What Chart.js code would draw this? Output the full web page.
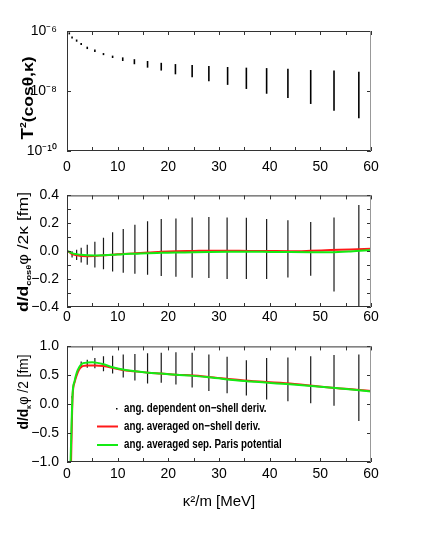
<!DOCTYPE html>
<html>
<head>
<meta charset="utf-8">
<script src="https://cdn.jsdelivr.net/npm/chart.js@4/dist/chart.umd.min.js"></script>
<style>
body { margin:0; background:#fff; width:436px; height:545px; position:relative; overflow:hidden; }
canvas { position:absolute; left:0; }
</style>
</head>
<body>
<canvas id="t2Chart" width="436" height="179" style="top:0px"></canvas>
<canvas id="cosChart" width="436" height="151" style="top:179px"></canvas>
<canvas id="kapChart" width="436" height="215" style="top:330px"></canvas>
<script>
// --- data (x = kappa^2/m in MeV) ---

// top panel: T^2(cos theta, kappa), spread over the angles
var t2Energy = [0.45, 1.0, 1.9, 2.8, 4.0, 5.5, 7.2, 9.0, 11.0, 13.3, 15.9, 18.6, 21.4, 24.7, 28.0, 31.7, 35.4, 39.4, 43.6, 48.1, 52.7, 57.6];
var t2High = [9.0e-7, 6.5e-7, 5.2e-7, 4.0e-7, 3.0e-7, 2.4e-7, 1.84e-7, 1.51e-7, 1.32e-7, 1.15e-7, 1.0e-7, 8.7e-8, 7.9e-8, 7.4e-8, 6.8e-8, 6.3e-8, 6.0e-8, 5.8e-8, 5.5e-8, 5.0e-8, 4.8e-8, 4.4e-8];
var t2Low = [7.7e-7, 5.6e-7, 4.4e-7, 3.4e-7, 2.5e-7, 2.0e-7, 1.57e-7, 1.26e-7, 1.0e-7, 7.8e-8, 6.0e-8, 4.8e-8, 3.6e-8, 2.9e-8, 2.1e-8, 1.6e-8, 1.17e-8, 8.1e-9, 5.8e-9, 3.7e-9, 2.2e-9, 1.23e-9];
var t2Ticks = [1e-10, 1e-8, 1e-6];

// energies of the angle dependent derivative points (middle + bottom panel)
var barEnergy = [1.0, 1.9, 2.8, 4.0, 5.5, 7.2, 9.0, 11.1, 13.4, 15.9, 18.6, 21.5, 24.7, 28.0, 31.6, 35.4, 39.4, 43.6, 48.1, 52.7, 57.6];

// middle panel: d/dcos phi / 2kappa [fm]
var cosHigh = [0.0, 0.01, 0.025, 0.047, 0.068, 0.097, 0.135, 0.16, 0.19, 0.214, 0.23, 0.234, 0.241, 0.246, 0.241, 0.239, 0.23, 0.221, 0.21, 0.241, 0.331];
var cosLow = [-0.045, -0.063, -0.081, -0.097, -0.117, -0.13, -0.146, -0.155, -0.162, -0.169, -0.178, -0.184, -0.191, -0.193, -0.2, -0.2, -0.2, -0.189, -0.176, -0.288, -0.394];
var cosLineE = [0.2, 1.0, 1.9, 2.8, 4.0, 5.5, 7.2, 9.0, 11.0, 13.4, 16.0, 18.6, 21.5, 25, 28, 32, 36, 40, 44, 48, 52, 56, 60];
var cosRed = [0, -0.02, -0.029, -0.035, -0.036, -0.035, -0.029, -0.025, -0.02, -0.015, -0.01, -0.004, 0, 0.002, 0.004, 0.003, 0.002, 0.001, 0, 0.003, 0.008, 0.012, 0.018];
var cosGreen = [0, -0.014, -0.021, -0.026, -0.029, -0.03, -0.029, -0.026, -0.021, -0.018, -0.014, -0.012, -0.01, -0.007, -0.005, -0.004, -0.004, -0.005, -0.006, -0.007, -0.008, -0.002, 0.009];

// bottom panel: d/dkappa phi / 2 [fm]
var kapHigh = [0.14, 0.56, 0.74, 0.77, 0.80, 0.83, 0.84, 0.86, 0.87, 0.88, 0.89, 0.90, 0.89, 0.86, 0.82, 0.76, 0.80, 0.81, 0.83, 0.85, 0.86];
var kapLow = [0.10, 0.50, 0.63, 0.63, 0.62, 0.57, 0.53, 0.46, 0.41, 0.36, 0.37, 0.34, 0.29, 0.23, 0.19, 0.15, 0.08, 0.05, 0.015, -0.025, -0.29];
var kapRedE = [0.8, 1.1, 1.5, 1.9, 2.4, 2.9, 3.5, 4.0, 5.5, 7.2, 9.0, 11.0, 13.4, 16.0, 18.6, 21.5, 25, 28, 35, 44, 53, 60];
var kapRed = [-1.0, 0.13, 0.38, 0.5, 0.6, 0.65, 0.665, 0.67, 0.67, 0.66, 0.63, 0.59, 0.57, 0.545, 0.53, 0.51, 0.495, 0.47, 0.41, 0.36, 0.28, 0.23];
var kapGreenE = [0.7, 1.1, 1.5, 1.9, 2.4, 2.9, 3.5, 4.0, 5.0, 6.0, 7.2, 9.0, 11.0, 13.4, 16.0, 18.6, 21.5, 25, 28, 35, 44, 53, 60];
var kapGreen = [-1.0, 0.17, 0.4, 0.54, 0.64, 0.695, 0.715, 0.72, 0.725, 0.715, 0.69, 0.64, 0.6, 0.57, 0.545, 0.53, 0.51, 0.49, 0.465, 0.4, 0.345, 0.28, 0.22];

var legendLabels = ['ang. dependent on\u2212shell deriv.', 'ang. averaged on\u2212shell deriv.', 'ang. averaged sep. Paris potential'];

// --- styling ---
var SANS = '"Liberation Sans", Arial, sans-serif';
var RED = 'rgb(255,25,25)';
var GREEN = 'rgb(20,235,20)';
Chart.defaults.font.family = SANS;
Chart.defaults.color = '#000';

var sup = { '0':'\u2070', '1':'\u00b9', '2':'\u00b2', '3':'\u00b3', '4':'\u2074', '5':'\u2075', '6':'\u2076', '7':'\u2077', '8':'\u2078', '9':'\u2079', '-':'\u207b' };

var pairs = function(xs, ys){ return xs.map(function(x, i){ return { x: x, y: ys[i] }; }); };
var ranges = function(xs, lo, hi){ return xs.map(function(x, i){ return { x: x, y: [lo[i], hi[i]] }; }); };

// frame round the plot with inward tick marks (gnuplot look)
var frameTicks = {
    id: 'frameTicks',
    afterDatasetsDraw: function(chart){
        var ctx = chart.ctx, a = chart.chartArea;
        var xs = chart.scales.x, ys = chart.scales.y;
        ctx.save();
        ctx.lineWidth = 1;
        ctx.strokeStyle = '#333';
        ctx.beginPath();
        ctx.moveTo(a.right, a.top + 0.5); ctx.lineTo(a.left + 0.5, a.top + 0.5);
        ctx.lineTo(a.left + 0.5, a.bottom - 0.5); ctx.lineTo(a.right, a.bottom - 0.5);
        xs.ticks.forEach(function(t){
            var px = Math.round(xs.getPixelForValue(t.value)) + 0.5;
            ctx.moveTo(px, a.bottom); ctx.lineTo(px, a.bottom - 4);
            ctx.moveTo(px, a.top); ctx.lineTo(px, a.top + 4);
        });
        ys.ticks.forEach(function(t){
            var py = Math.round(ys.getPixelForValue(t.value)) + 0.5;
            ctx.moveTo(a.left, py); ctx.lineTo(a.left + 4, py);
            ctx.moveTo(a.right, py); ctx.lineTo(a.right - 4, py);
        });
        ctx.stroke();
        ctx.strokeStyle = '#999';
        ctx.beginPath();
        ctx.moveTo(a.right - 0.5, a.top); ctx.lineTo(a.right - 0.5, a.bottom);
        ctx.stroke();
        ctx.restore();
    }
};

// rotated y title made of pieces (sub/superscripts), stretched to a length
var makeYTitle = function(parts, x, y, len){
    return {
        id: 'yTitle',
        afterDraw: function(chart){
            var ctx = chart.ctx, total = 0;
            ctx.save();
            parts.forEach(function(p){ ctx.font = p.font; p.w = ctx.measureText(p.text).width; total += p.w; });
            ctx.translate(x, y);
            ctx.rotate(-Math.PI / 2);
            ctx.scale(len / total, 1);
            ctx.fillStyle = '#000';
            ctx.textBaseline = 'alphabetic';
            var pos = -total / 2;
            parts.forEach(function(p){ ctx.font = p.font; ctx.fillText(p.text, pos, p.dy || 0); pos += p.w; });
            ctx.restore();
        }
    };
};

// legend inside the bottom panel (condensed text like the original)
var kapLegend = {
    id: 'kapLegend',
    afterDraw: function(chart){
        var ctx = chart.ctx;
        var rows = [79, 96.5, 115];
        ctx.save();
        ctx.textBaseline = 'middle';
        ctx.fillStyle = '#000';
        chart.data.datasets.forEach(function(ds, i){
            var y = rows[i];
            if (ds.type === 'bar') {
                ctx.fillRect(116, y - 1, 1.5, 1.5);
            } else {
                ctx.strokeStyle = ds.borderColor;
                ctx.lineWidth = 2;
                ctx.beginPath(); ctx.moveTo(97, y); ctx.lineTo(118, y); ctx.stroke();
            }
            ctx.save();
            ctx.translate(124, y);
            ctx.scale(0.78, 1);
            ctx.font = 'bold 12.5px ' + SANS;
            ctx.fillText(ds.label, 0, 0);
            ctx.restore();
        });
        ctx.restore();
    }
};

var xScale = function(pad, height, title){
    return {
        type: 'linear', min: 0, max: 60, offset: false,
        grid: { display: false, drawTicks: false },
        border: { display: false },
        ticks: {
            stepSize: 5, autoSkip: false, maxRotation: 0, padding: pad, font: { size: 14 },
            callback: function(v){ return v % 10 === 0 ? String(v) : ''; }
        },
        title: title ? { display: true, text: title, font: { size: 15 }, padding: { top: 0, bottom: 1 } } : { display: false },
        afterFit: function(s){ s.height = height; }
    };
};

var baseOptions = function(padTop, padBottom, x, y){
    return {
        responsive: false,
        animation: false,
        events: [],
        layout: { padding: { top: padTop, right: 65, bottom: padBottom, left: 0 } },
        plugins: { legend: { display: false }, tooltip: { enabled: false } },
        scales: { x: x, y: y }
    };
};

// --- top panel ---
new Chart(document.getElementById('t2Chart'), {
    type: 'bar',
    data: {
        datasets: [{
            type: 'bar',
            label: 'T2',
            data: ranges(t2Energy, t2Low, t2High),
            backgroundColor: '#000',
            barThickness: 1.6,
            inflateAmount: 0
        }]
    },
    options: baseOptions(31, 0, xScale(8, 28), {
        type: 'logarithmic', min: 1e-10, max: 1e-6,
        grid: { display: false, drawTicks: false },
        border: { display: false },
        afterBuildTicks: function(s){ s.ticks = t2Ticks.map(function(v){ return { value: v }; }); },
        ticks: {
            padding: 10, font: { size: 14 },
            callback: function(v){
                var e = String(Math.round(Math.log10(v)));
                return '10' + e.split('').map(function(c){ return sup[c]; }).join('');
            }
        },
        afterFit: function(s){ s.width = 67; }
    }),
    plugins: [frameTicks, makeYTitle([
        { text: 'T', font: 'bold 16px ' + SANS },
        { text: '2', font: 'bold 9px ' + SANS, dy: -7 },
        { text: '(cos\u03b8,\u03ba)', font: 'bold 15px ' + SANS }
    ], 33, 98, 83)]
});

// --- middle panel ---
var tenths = function(v){
    var n = Math.round(v * 10);
    if (n % 2 !== 0) return '';
    return (n / 10).toFixed(1).replace('-', '\u2212');
};

new Chart(document.getElementById('cosChart'), {
    type: 'bar',
    data: {
        datasets: [
            { type: 'bar', label: legendLabels[0], data: ranges(barEnergy, cosLow, cosHigh),
              backgroundColor: 'rgba(0,0,0,0.9)', barThickness: 1.2, inflateAmount: 0, order: 3 },
            { type: 'line', label: legendLabels[1], data: pairs(cosLineE, cosRed), borderColor: RED,
              borderWidth: 2, pointRadius: 0, cubicInterpolationMode: 'monotone', order: 2 },
            { type: 'line', label: legendLabels[2], data: pairs(cosLineE, cosGreen), borderColor: GREEN,
              borderWidth: 2, pointRadius: 0, cubicInterpolationMode: 'monotone', order: 1 }
        ]
    },
    options: baseOptions(9, 0, xScale(2, 23), {
        type: 'linear', min: -0.4, max: 0.4,
        grid: { display: false, drawTicks: false },
        border: { display: false },
        ticks: { stepSize: 0.1, autoSkip: false, padding: 8, font: { size: 14 }, callback: tenths },
        afterFit: function(s){ s.width = 67; }
    }),
    plugins: [frameTicks, makeYTitle([
        { text: 'd/d', font: 'bold 15px ' + SANS },
        { text: 'cos\u03b8', font: 'bold 8px ' + SANS, dy: 3 },
        { text: '\u03c6', font: '14px ' + SANS },
        { text: ' /2\u03ba [fm]', font: '15px ' + SANS }
    ], 28, 73, 120)]
});

// --- bottom panel ---
new Chart(document.getElementById('kapChart'), {
    type: 'bar',
    data: {
        datasets: [
            { type: 'bar', label: legendLabels[0], data: ranges(barEnergy, kapLow, kapHigh),
              backgroundColor: 'rgba(0,0,0,0.9)', barThickness: 1.2, inflateAmount: 0, order: 3 },
            { type: 'line', label: legendLabels[1], data: pairs(kapRedE, kapRed), borderColor: RED,
              borderWidth: 2, pointRadius: 0, cubicInterpolationMode: 'monotone', order: 2 },
            { type: 'line', label: legendLabels[2], data: pairs(kapGreenE, kapGreen), borderColor: GREEN,
              borderWidth: 2, pointRadius: 0, cubicInterpolationMode: 'monotone', order: 1 }
        ]
    },
    options: baseOptions(13, 33, xScale(4, 50, '\u03ba\u00b2/m [MeV]'), {
        type: 'linear', min: -1, max: 1,
        grid: { display: false, drawTicks: false },
        border: { display: false },
        ticks: { stepSize: 0.5, padding: 8, font: { size: 14 },
                 callback: function(v){ return v.toFixed(1).replace('-', '\u2212'); } },
        afterFit: function(s){ s.width = 67; }
    }),
    plugins: [frameTicks, kapLegend, makeYTitle([
        { text: 'd/d', font: 'bold 15px ' + SANS },
        { text: '\u03ba', font: 'bold 8px ' + SANS, dy: 3 },
        { text: '\u03c6', font: '14px ' + SANS },
        { text: ' /2 [fm]', font: '15px ' + SANS }
    ], 28, 62, 75)]
});
</script>
</body>
</html>
